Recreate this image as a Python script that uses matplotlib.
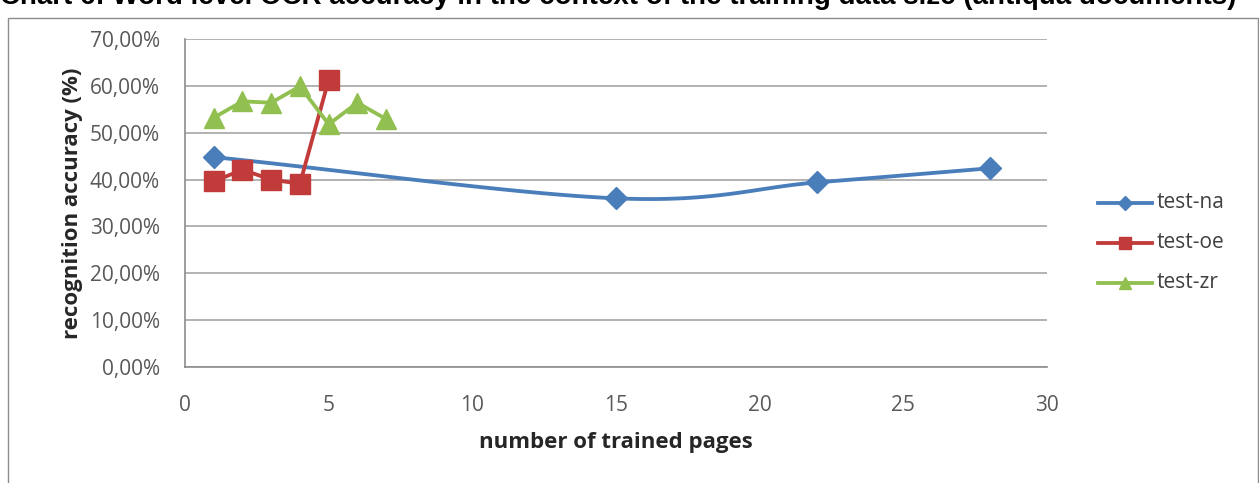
import numpy as np
import matplotlib.pyplot as plt
from matplotlib.patches import Rectangle
from matplotlib.ticker import FuncFormatter

# data
na_x = [1, 15, 22, 28]
na_y = [44.8, 36.0, 39.4, 42.4]
oe_x = [1, 2, 3, 4, 5]
oe_y = [39.6, 42.1, 40.0, 39.1, 61.3]
zr_x = [1, 2, 3, 4, 5, 6, 7]
zr_y = [53.2, 56.7, 56.4, 59.9, 51.8, 56.4, 52.9]
y_ticks = [0, 10, 20, 30, 40, 50, 60, 70]
x_ticks = [0, 5, 10, 15, 20, 25, 30]


def smooth(xs, ys, n=40):
    # Catmull-Rom style curve through the points, like Excel's smoothed line
    xs = np.asarray(xs, float)
    ys = np.asarray(ys, float)
    px = np.concatenate([[2 * xs[0] - xs[1]], xs, [2 * xs[-1] - xs[-2]]])
    py = np.concatenate([[2 * ys[0] - ys[1]], ys, [2 * ys[-1] - ys[-2]]])
    out_x, out_y = [], []
    for i in range(1, len(px) - 2):
        t = np.linspace(0, 1, n)
        for p, o in ((px, out_x), (py, out_y)):
            p0, p1, p2, p3 = p[i - 1], p[i], p[i + 1], p[i + 2]
            c1 = p1 + (p2 - p0) / 6
            c2 = p2 - (p3 - p1) / 6
            o.extend((1 - t) ** 3 * p1 + 3 * (1 - t) ** 2 * t * c1
                     + 3 * (1 - t) * t ** 2 * c2 + t ** 3 * p2)
    return out_x, out_y


plt.rcParams['font.family'] = ['Open Sans', 'DejaVu Sans']

fig = plt.figure(figsize=(12.59, 4.83), dpi=100)
ax = fig.add_axes([185 / 1259, 1 - 367 / 483, 862 / 1259, 328 / 483])

blue = '#4a7ebb'
red = '#c23b3b'
green = '#92c050'

sx, sy = smooth(na_x, na_y)
ax.plot(sx, sy, color=blue, lw=2.75, zorder=3)
ax.plot(na_x, na_y, ls='none', marker='D', ms=11, color=blue, zorder=4)
ax.plot(oe_x, oe_y, color=red, lw=2.75, marker='s', ms=14, zorder=3)
ax.plot(zr_x, zr_y, color=green, lw=2.75, marker='^', ms=15, zorder=3)

ax.set_xlim(0, 30)
ax.set_ylim(0, 70)
ax.set_xticks(x_ticks)
ax.set_yticks(y_ticks)
ax.yaxis.set_major_formatter(FuncFormatter(lambda v, p: f'{v:.2f}%'.replace('.', ',')))
ax.grid(axis='y', color='#a6a6a6', lw=1.2)
ax.set_axisbelow(True)
for s in ['top', 'right']:
    ax.spines[s].set_visible(False)
for s in ['left', 'bottom']:
    ax.spines[s].set_color('#8c8c8c')
    ax.spines[s].set_linewidth(1.2)
ax.tick_params(labelcolor='#595959', labelsize=15, length=0)
ax.tick_params(axis='y', pad=18)
ax.tick_params(axis='x', pad=20)

ax.set_xlabel('number of trained pages', fontsize=16, fontweight='bold', color='#262626', labelpad=12)
ax.set_ylabel('recognition accuracy (%)', fontsize=16, fontweight='bold', color='#262626', labelpad=5)

# legend built by hand to keep Excel-like spacing
lx0, lx1 = 1098 / 1259, 1152 / 1259
entries = [('test-na', blue, 'D', 7), ('test-oe', red, 's', 8), ('test-zr', green, '^', 9)]
for i, (lab, c, m, ms) in enumerate(entries):
    yy = 1 - (203 + 40 * i) / 483
    fig.add_artist(plt.Line2D([lx0, lx1], [yy, yy], color=c, lw=2.75, transform=fig.transFigure))
    fig.add_artist(plt.Line2D([(lx0 + lx1) / 2], [yy], marker=m, ms=ms, color=c, transform=fig.transFigure))
    fig.text(1157 / 1259, yy, lab, fontsize=15, color='#404040', va='center')

# chart border and clipped title
fig.add_artist(Rectangle((8 / 1259, -0.01), 1250 / 1259, 1 - 18 / 483 + 0.01, transform=fig.transFigure,
                         fill=False, edgecolor='#8c8c8c', lw=1))
fig.text(0.0, 1 - 4 / 483,
         'Chart 6: Word level OCR accuracy in the context of the training data size (antiqua documents)',
         fontsize=20, fontweight='bold', family='Liberation Sans', va='baseline', ha='left')

fig.savefig('out.png', dpi=100)
